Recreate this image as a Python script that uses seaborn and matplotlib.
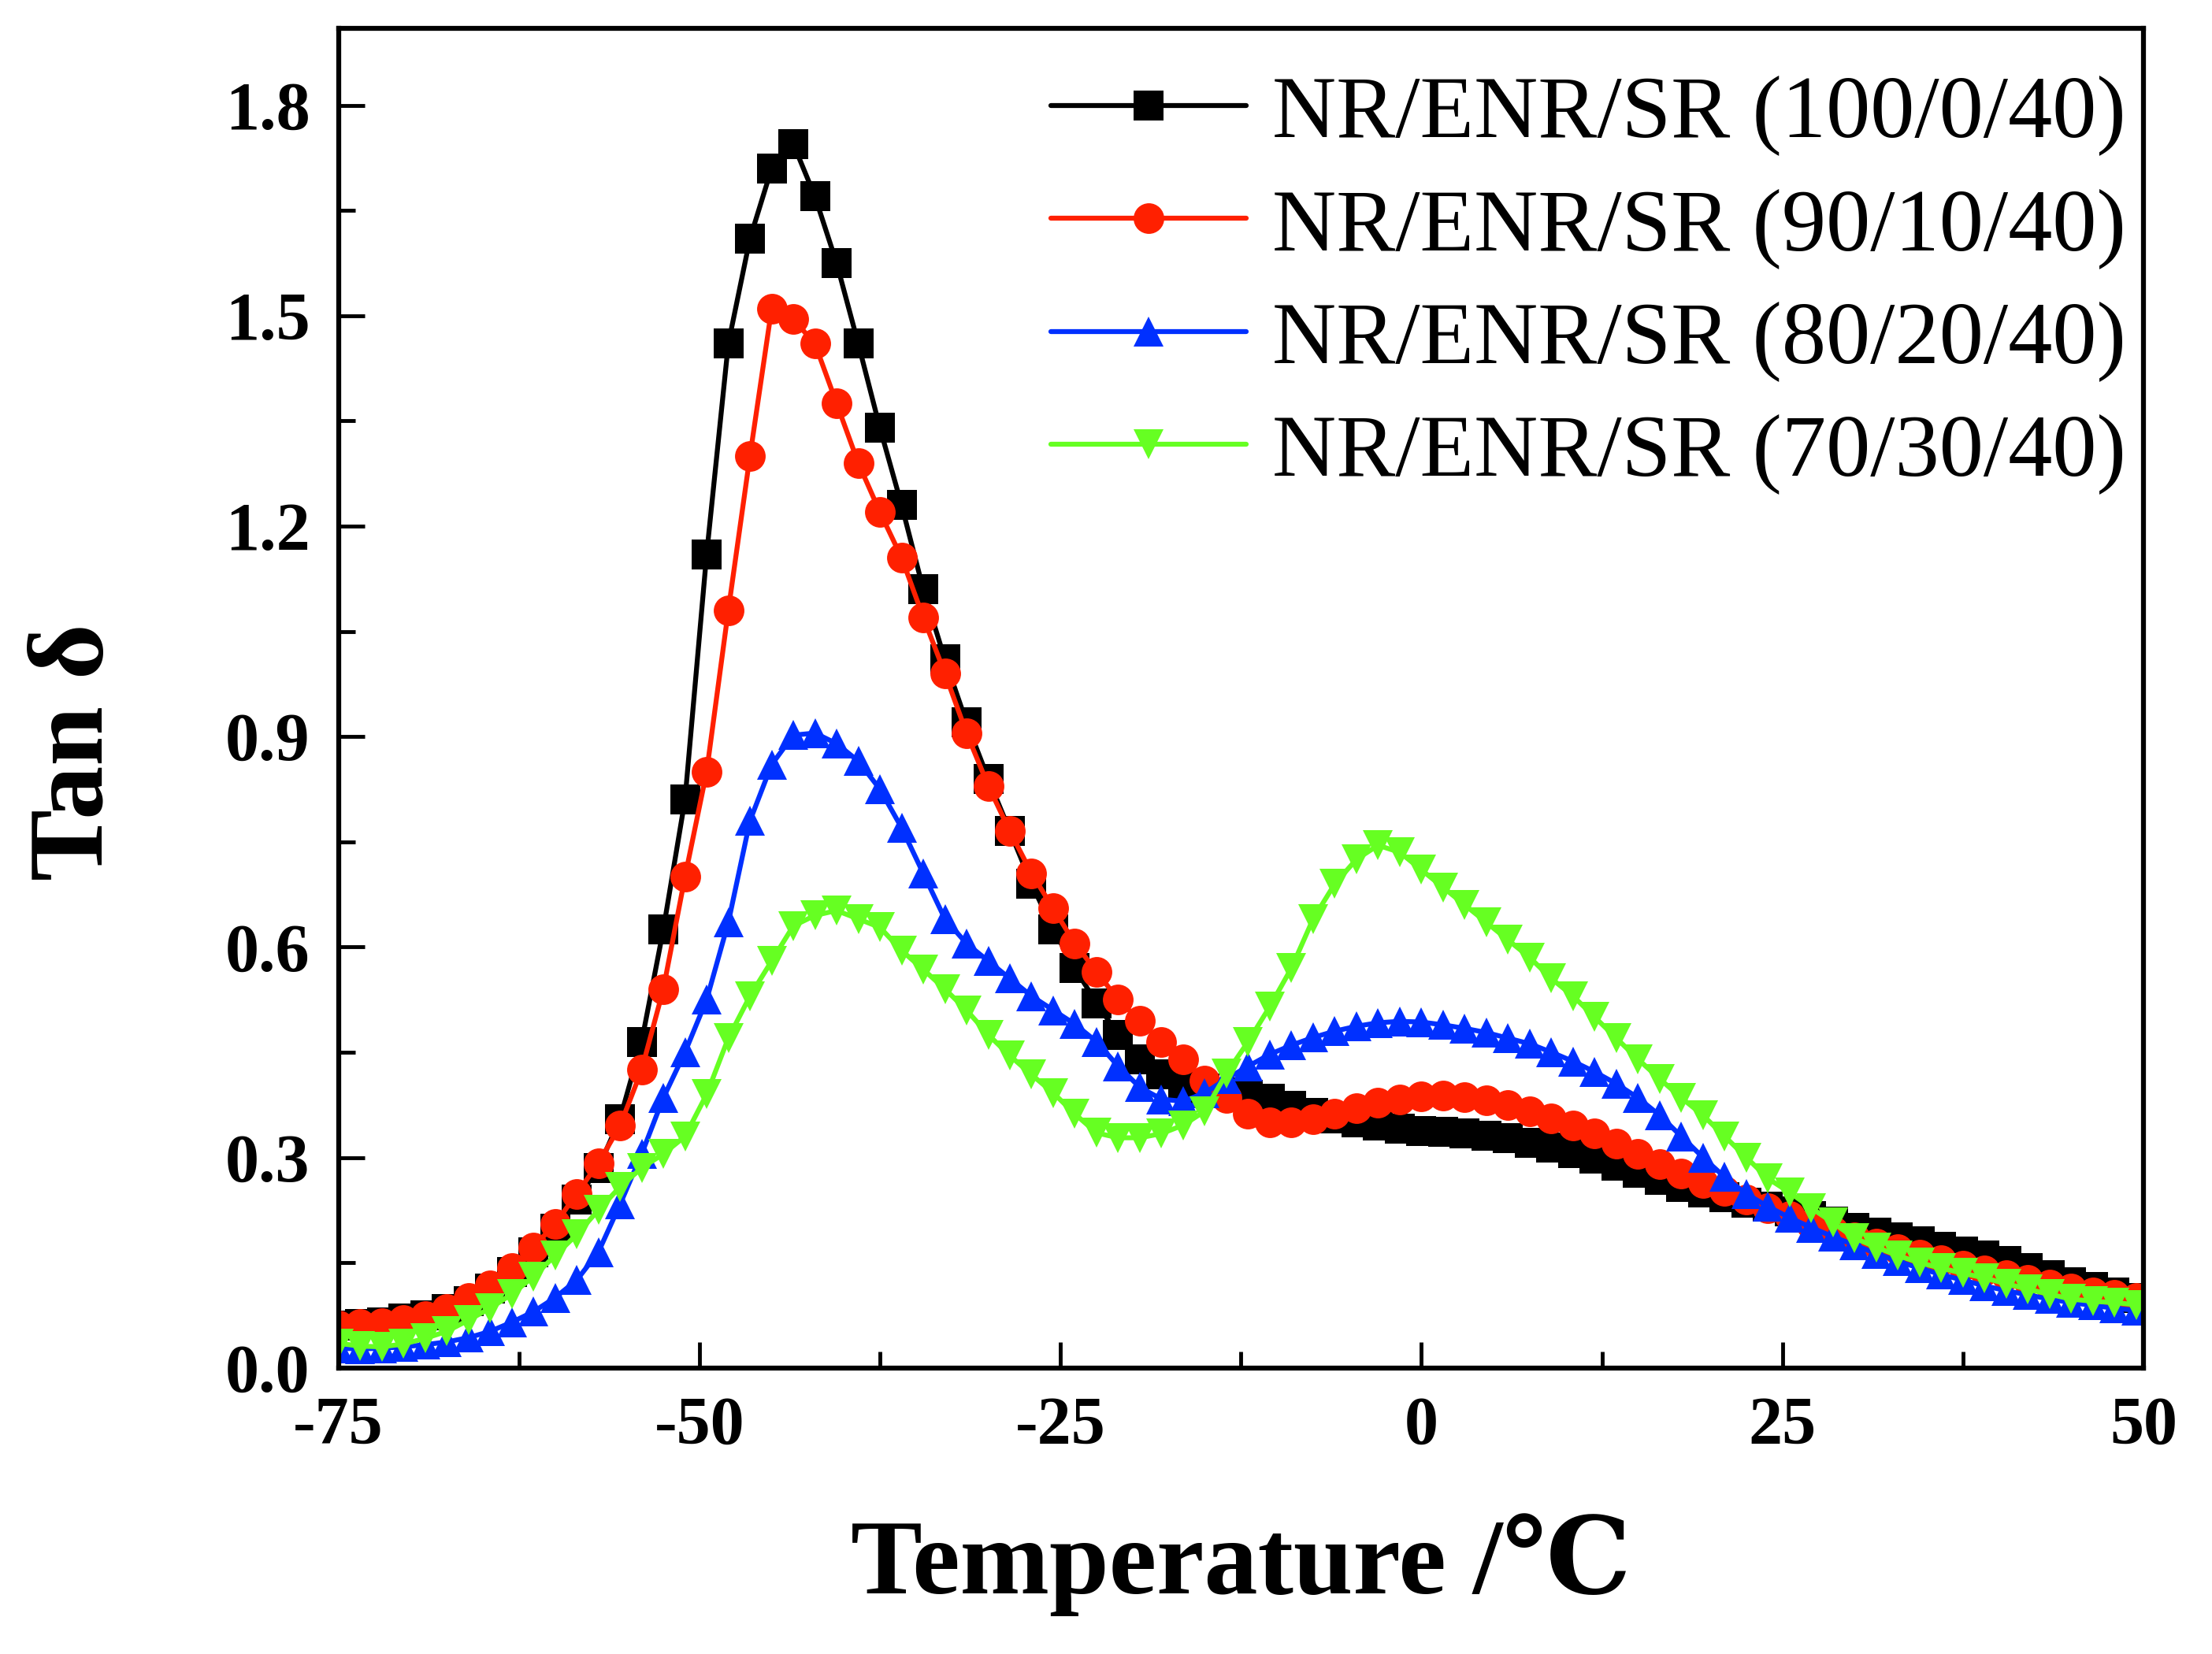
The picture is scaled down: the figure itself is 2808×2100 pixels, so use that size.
import matplotlib
matplotlib.use("Agg")
import matplotlib.pyplot as plt
import pandas as pd
import seaborn as sns
from matplotlib.lines import Line2D
from matplotlib.ticker import MultipleLocator, FormatStrFormatter

# temperature grid (deg C)
temperature = [-75, -73.5, -72, -70.5, -69, -67.5, -66, -64.5, -63, -61.5, -60, -58.5,
               -57, -55.5, -54, -52.5, -51, -49.5, -48, -46.5, -45, -43.5, -42, -40.5,
               -39, -37.5, -36, -34.5, -33, -31.5, -30, -28.5, -27, -25.5, -24, -22.5,
               -21, -19.5, -18, -16.5, -15, -13.5, -12, -10.5, -9, -7.5, -6, -4.5,
               -3, -1.5, 0, 1.5, 3, 4.5, 6, 7.5, 9, 10.5, 12, 13.5,
               15, 16.5, 18, 19.5, 21, 22.5, 24, 25.5, 27, 28.5, 30, 31.5,
               33, 34.5, 36, 37.5, 39, 40.5, 42, 43.5, 45, 46.5, 48, 49.5]

tan_100_0 = [0.060, 0.062, 0.065, 0.070, 0.075, 0.084, 0.095, 0.113, 0.137, 0.165, 0.198, 0.240,
             0.285, 0.355, 0.465, 0.625, 0.810, 1.160, 1.460, 1.610, 1.710, 1.745, 1.670, 1.575,
             1.460, 1.340, 1.230, 1.110, 1.010, 0.920, 0.840, 0.765, 0.690, 0.625, 0.570, 0.520,
             0.475, 0.440, 0.418, 0.405, 0.398, 0.393, 0.389, 0.384, 0.374, 0.364, 0.356, 0.350,
             0.345, 0.341, 0.338, 0.336, 0.334, 0.331, 0.327, 0.321, 0.314, 0.306, 0.298, 0.288,
             0.278, 0.268, 0.258, 0.250, 0.243, 0.236, 0.230, 0.223, 0.216, 0.208, 0.200, 0.193,
             0.186, 0.180, 0.173, 0.166, 0.160, 0.152, 0.142, 0.132, 0.122, 0.115, 0.108, 0.100]

tan_90_10 = [0.060, 0.062, 0.064, 0.068, 0.074, 0.084, 0.100, 0.118, 0.142, 0.172, 0.205, 0.248,
             0.292, 0.345, 0.425, 0.540, 0.700, 0.850, 1.080, 1.300, 1.510, 1.495, 1.460, 1.375,
             1.290, 1.220, 1.155, 1.070, 0.990, 0.905, 0.830, 0.765, 0.705, 0.655, 0.605, 0.565,
             0.525, 0.495, 0.465, 0.440, 0.410, 0.385, 0.362, 0.350, 0.350, 0.355, 0.362, 0.370,
             0.378, 0.383, 0.387, 0.388, 0.386, 0.382, 0.375, 0.366, 0.356, 0.345, 0.334, 0.320,
             0.305, 0.290, 0.277, 0.264, 0.252, 0.240, 0.228, 0.216, 0.205, 0.195, 0.186, 0.177,
             0.169, 0.161, 0.153, 0.146, 0.139, 0.132, 0.125, 0.119, 0.113, 0.108, 0.104, 0.100]

tan_80_20 = [0.028, 0.027, 0.028, 0.030, 0.033, 0.037, 0.043, 0.052, 0.065, 0.080, 0.100, 0.125,
             0.165, 0.233, 0.305, 0.385, 0.450, 0.525, 0.635, 0.780, 0.860, 0.902, 0.905, 0.890,
             0.865, 0.825, 0.770, 0.705, 0.640, 0.605, 0.580, 0.555, 0.530, 0.510, 0.490, 0.465,
             0.430, 0.400, 0.383, 0.380, 0.392, 0.412, 0.430, 0.447, 0.460, 0.471, 0.480, 0.487,
             0.492, 0.494, 0.493, 0.489, 0.484, 0.478, 0.470, 0.462, 0.450, 0.437, 0.422, 0.405,
             0.385, 0.360, 0.330, 0.300, 0.272, 0.248, 0.230, 0.214, 0.200, 0.187, 0.175, 0.163,
             0.152, 0.142, 0.133, 0.125, 0.117, 0.110, 0.104, 0.098, 0.093, 0.089, 0.085, 0.082]

tan_70_30 = [0.035, 0.031, 0.030, 0.034, 0.042, 0.052, 0.068, 0.085, 0.105, 0.130, 0.160, 0.190,
             0.225, 0.258, 0.285, 0.305, 0.330, 0.390, 0.470, 0.530, 0.580, 0.630, 0.645, 0.652,
             0.640, 0.628, 0.595, 0.568, 0.540, 0.510, 0.475, 0.445, 0.418, 0.392, 0.362, 0.335,
             0.328, 0.328, 0.334, 0.346, 0.366, 0.420, 0.465, 0.515, 0.570, 0.640, 0.690, 0.725,
             0.745, 0.735, 0.710, 0.685, 0.660, 0.635, 0.610, 0.585, 0.555, 0.530, 0.500, 0.470,
             0.440, 0.412, 0.385, 0.360, 0.330, 0.300, 0.270, 0.250, 0.228, 0.207, 0.185, 0.172,
             0.160, 0.150, 0.142, 0.135, 0.128, 0.120, 0.112, 0.105, 0.098, 0.095, 0.093, 0.090]

labels = ["NR/ENR/SR (100/0/40)", "NR/ENR/SR (90/10/40)",
          "NR/ENR/SR (80/20/40)", "NR/ENR/SR (70/30/40)"]
colors = ["#000000", "#FF2000", "#0030FF", "#66FF22"]
markers = ["s", "o", "^", "v"]

series = [tan_100_0, tan_90_10, tan_80_20, tan_70_30]
df = pd.concat([pd.DataFrame({"T": temperature, "tan": s, "sample": lab})
                for lab, s in zip(labels, series)], ignore_index=True)

sns.set_style("ticks")
plt.rcParams["font.family"] = ["Liberation Serif", "DejaVu Serif"]
plt.rcParams["axes.unicode_minus"] = False
plt.rcParams["text.color"] = "black"
plt.rcParams["axes.labelcolor"] = "black"
plt.rcParams["xtick.color"] = "black"
plt.rcParams["ytick.color"] = "black"
plt.rcParams["axes.edgecolor"] = "black"

fig = plt.figure(figsize=(28.08, 21.0), dpi=100)
ax = fig.add_axes([0.153, 0.173, 0.816, 0.810])

sns.lineplot(data=df, x="T", y="tan", hue="sample", style="sample",
             palette=dict(zip(labels, colors)), markers=dict(zip(labels, markers)),
             dashes=False, sort=False, estimator=None, linewidth=4.5,
             markersize=28, markeredgewidth=0, legend=False, ax=ax)

ax.set_xlim(-75, 50)
ax.set_ylim(0, 1.91)
ax.xaxis.set_major_locator(MultipleLocator(25))
ax.xaxis.set_minor_locator(MultipleLocator(12.5))
ax.yaxis.set_major_locator(MultipleLocator(0.3))
ax.yaxis.set_minor_locator(MultipleLocator(0.15))
ax.yaxis.set_major_formatter(FormatStrFormatter("%.1f"))

for sp in ax.spines.values():
    sp.set_linewidth(4.5)
    sp.set_color("black")
ax.tick_params(which="both", direction="in", top=False, right=False, width=3.5)
ax.tick_params(which="major", length=24, labelsize=62, pad=26)
ax.tick_params(which="minor", length=15)
for t in ax.get_xticklabels() + ax.get_yticklabels():
    t.set_fontweight("bold")

ax.set_xlabel("Temperature /\u2103", fontsize=98, fontweight="bold", labelpad=50)
ax.set_ylabel("Tan \u03b4", fontsize=98, fontweight="bold", labelpad=60)
ax.yaxis.set_label_coords(-0.118, 0.46)

handles = [Line2D([], [], color=c, marker=m, linewidth=4.5, markersize=28,
                  markeredgewidth=0) for c, m in zip(colors, markers)]
ax.legend(handles, labels, loc="upper right", bbox_to_anchor=(1.02, 1.005),
          frameon=False, fontsize=81, handlelength=2.2, handletextpad=0.3,
          labelspacing=0.36, borderaxespad=0.2)

fig.savefig("out.png", dpi=100)
